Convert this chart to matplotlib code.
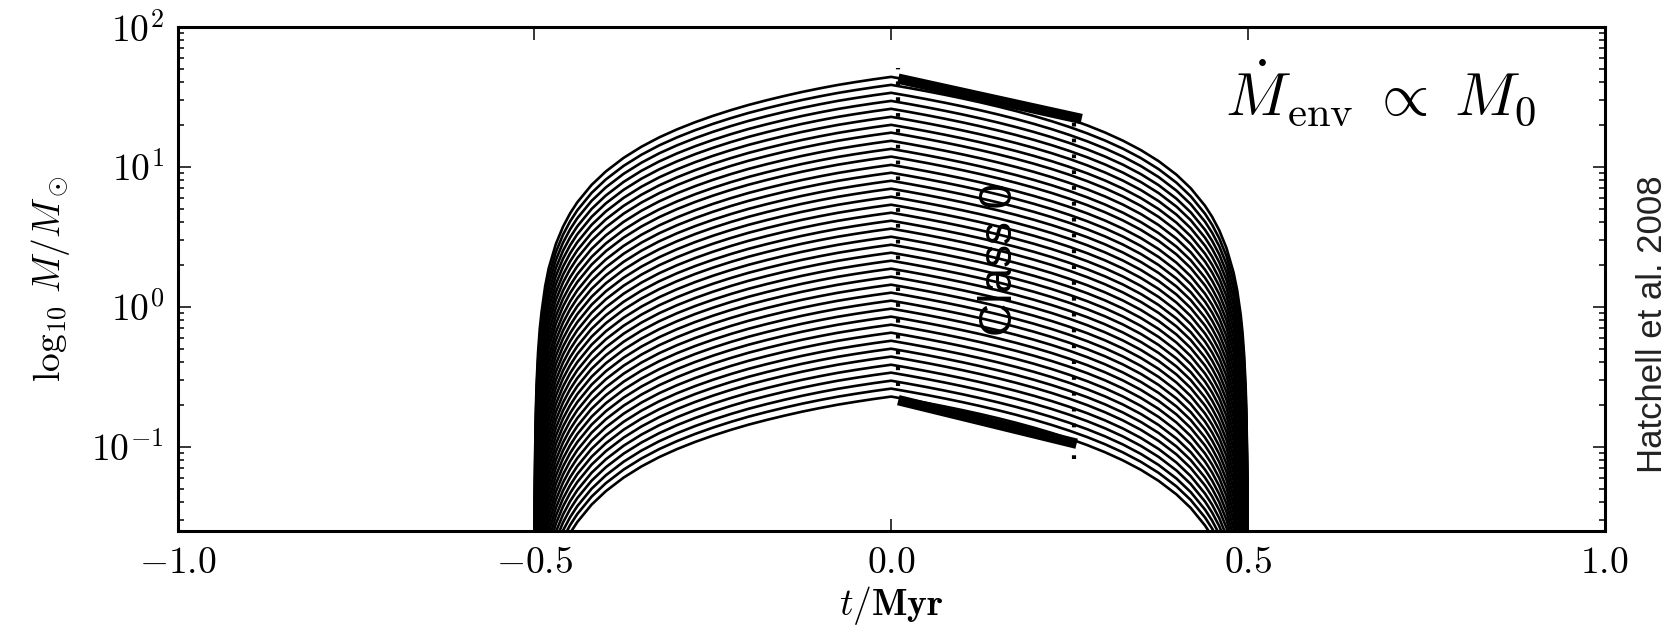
import matplotlib
matplotlib.use("Agg")
import numpy as np
import matplotlib.pyplot as plt
from matplotlib.ticker import FuncFormatter, FixedLocator, LogLocator

plt.rcParams["mathtext.fontset"] = "cm"

# peak envelope mass of each track (M_sun), read at t = 0
peak_mass = [0.228, 0.260, 0.296, 0.338, 0.385, 0.440, 0.501, 0.571, 0.652, 0.744,
             0.849, 0.968, 1.104, 1.259, 1.436, 1.638, 1.868, 2.13, 2.43, 2.77,
             3.16, 3.61, 4.11, 4.69, 5.35, 6.10, 6.96, 7.93, 9.05, 10.3,
             11.8, 13.4, 15.3, 17.5, 19.9, 22.7, 25.9, 29.5, 33.7, 38.4, 43.8]

# shape of a track (fraction of peak mass)
shape_t = [-0.5, -0.4995, -0.499, -0.498, -0.497, -0.495, -0.4925, -0.49, -0.485, -0.48,
           -0.47, -0.46, -0.45, -0.44, -0.42, -0.40, -0.375, -0.35, -0.325, -0.30,
           -0.275, -0.25, -0.225, -0.20, -0.175, -0.15, -0.125, -0.10, -0.075, -0.05,
           -0.025, 0.0,
           0.025, 0.05, 0.075, 0.10, 0.125, 0.15, 0.175, 0.20, 0.225, 0.25,
           0.275, 0.30, 0.325, 0.35, 0.375, 0.40, 0.42, 0.44, 0.45, 0.46,
           0.47, 0.48, 0.485, 0.49, 0.4925, 0.495, 0.497, 0.498, 0.499, 0.4995, 0.5]
shape_frac = [0.0, 0.0011, 0.0022, 0.0043, 0.0065, 0.0107, 0.016, 0.021, 0.032, 0.043,
              0.064, 0.085, 0.106, 0.127, 0.169, 0.211, 0.264, 0.317, 0.370, 0.422,
              0.474, 0.526, 0.578, 0.630, 0.680, 0.730, 0.780, 0.828, 0.875, 0.918,
              0.960, 1.0,
              0.95, 0.90, 0.85, 0.80, 0.75, 0.70, 0.65, 0.60, 0.55, 0.50,
              0.45, 0.40, 0.35, 0.30, 0.25, 0.20, 0.16, 0.12, 0.10, 0.08,
              0.06, 0.04, 0.03, 0.02, 0.015, 0.01, 0.006, 0.004, 0.002, 0.001, 0.0]

# Class 0 stretch (thick segments)
class0_t = [0.01, 0.267]
class0_top = [42.5, 21.9]
class0_t_low = [0.01, 0.26]
class0_bottom = [0.215, 0.105]

# dotted boundaries: time, lower, upper
bound1 = (0.009, 0.27, 50.7)
bound2 = (0.256, 0.082, 24.0)

fig = plt.figure(figsize=(16.74, 6.35), dpi=100)
ax = fig.add_axes([0.1062, 0.1638, 0.8523, 0.7942])

frac = np.array(shape_frac)
for m in peak_mass:
    ax.plot(shape_t, m * frac, color="black", lw=1.9, zorder=2)

ax.plot(class0_t, class0_top, color="black", lw=7.5, solid_capstyle="butt", zorder=3)
ax.plot(class0_t_low, class0_bottom, color="black", lw=7.5, solid_capstyle="butt", zorder=3)

for t0, lo, hi in (bound1, bound2):
    ax.plot([t0, t0], [lo, hi], color="black", lw=3, linestyle=(0, (0.9, 2.9)), zorder=3)

ax.set_yscale("log")
ax.set_xlim(-1.0, 1.0)
ax.set_ylim(0.025, 100)

ax.xaxis.set_major_locator(FixedLocator([-1.0, -0.5, 0.0, 0.5, 1.0]))
ax.xaxis.set_major_formatter(FuncFormatter(lambda v, p: r"$%.1f$" % v))
ax.yaxis.set_major_locator(FixedLocator([0.1, 1, 10, 100]))
ax.yaxis.set_minor_locator(LogLocator(base=10, subs=np.arange(2, 10)))
ax.yaxis.set_major_formatter(FuncFormatter(lambda v, p: r"$10^{%d}$" % round(np.log10(v))))

ax.tick_params(which="both", direction="in", top=True, right=True, labelsize=27, pad=10)
ax.tick_params(which="major", length=9, width=1.1)
ax.tick_params(which="minor", length=4.5, width=1.1)
for s in ax.spines.values():
    s.set_linewidth(2.2)

ax.set_xlabel(r"$t/\mathbf{Myr}$", fontsize=27, labelpad=2)
ax.set_ylabel(r"$\log_{10}\,M/M_\odot$", fontsize=27, labelpad=14)

ax.text(0.686, 23.2, r"$\dot{M}_{\rm env}\;\propto\; M_0$", fontsize=44,
        ha="center", va="baseline")
ax.text(0.153, 2.17, "Class 0", fontsize=33, rotation=90,
        family="Liberation Sans", ha="center", va="center", zorder=4)

fig.text(0.987, 0.49, "Hatchell et al. 2008", fontsize=25, rotation=90,
         family="Liberation Sans", color="#222222", ha="center", va="center")

fig.savefig("out.png", dpi=100)
